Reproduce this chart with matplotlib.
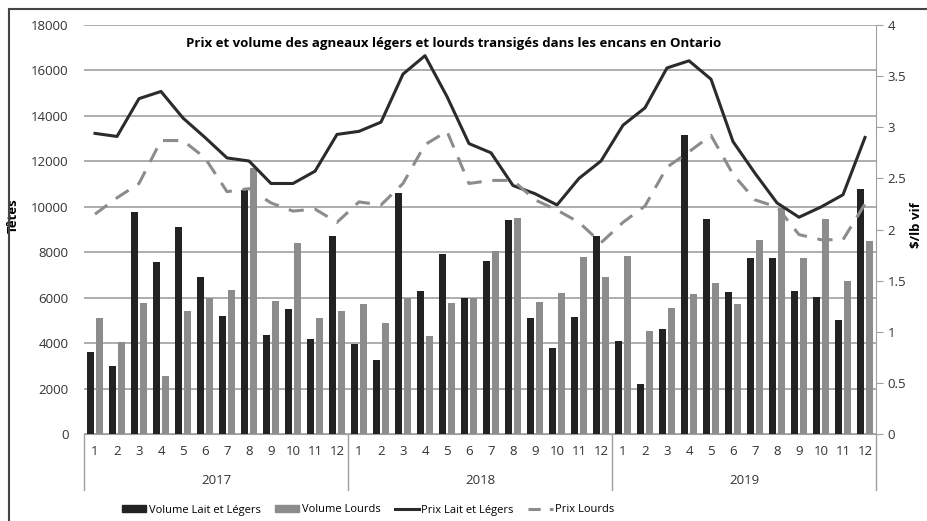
import numpy as np
import matplotlib
matplotlib.use("Agg")
import matplotlib.pyplot as plt
from matplotlib.lines import Line2D
from matplotlib.patches import Patch, Rectangle

plt.rcParams['font.family'] = ['Open Sans', 'DejaVu Sans']

years = ['2017', '2018', '2019']
months = [str(m) for m in range(1, 13)]

vol_legers = [3600, 3000, 9750, 7550, 9100, 6900, 5200, 10750, 4350, 5500, 4200, 8700,
              3950, 3250, 10600, 6300, 7900, 6000, 7600, 9400, 5100, 3800, 5150, 8700,
              4100, 2200, 4600, 13150, 9450, 6250, 7750, 7750, 6300, 6050, 5000, 10800]
vol_lourds = [5100, 4050, 5750, 2550, 5400, 6000, 6350, 11700, 5850, 8400, 5100, 5400,
              5700, 4900, 6000, 4300, 5750, 6000, 8050, 9500, 5800, 6200, 7800, 6900,
              7850, 4550, 5550, 6150, 6650, 5700, 8550, 9950, 7750, 9450, 6750, 8500]
prix_legers = [2.94, 2.91, 3.28, 3.35, 3.09, 2.90, 2.70, 2.67, 2.45, 2.45, 2.57, 2.93,
               2.96, 3.05, 3.52, 3.70, 3.30, 2.84, 2.75, 2.43, 2.35, 2.24, 2.50, 2.67,
               3.02, 3.19, 3.58, 3.65, 3.47, 2.86, 2.55, 2.26, 2.12, 2.22, 2.34, 2.90]
prix_lourds = [2.15, 2.31, 2.45, 2.87, 2.87, 2.70, 2.37, 2.40, 2.26, 2.18, 2.20, 2.07,
               2.27, 2.24, 2.45, 2.83, 2.96, 2.45, 2.48, 2.48, 2.29, 2.19, 2.07, 1.87,
               2.07, 2.23, 2.61, 2.76, 2.92, 2.54, 2.29, 2.22, 1.95, 1.90, 1.90, 2.25]

dark = '#222222'
grey = '#8c8c8c'
txt = '#333333'

fig = plt.figure(figsize=(9.27, 5.21), dpi=100)
ax = fig.add_axes([84 / 927, 1 - 434 / 521, (876 - 84) / 927, (434 - 25) / 521])
ax2 = ax.twinx()

x = np.arange(len(vol_legers))
w = 0.32
ax.bar(x - 0.19, vol_legers, w, color=dark, zorder=3)
ax.bar(x + 0.19, vol_lourds, w, color=grey, zorder=3)

ax.set_ylim(0, 18000)
ax.set_yticks(range(0, 18001, 2000))
ax.set_xlim(-0.5, len(x) - 0.5)
ax.grid(axis='y', color='#a0a0a0', linewidth=1.2, zorder=0)
ax.set_axisbelow(True)
for s in ['top', 'left', 'right']:
    ax.spines[s].set_visible(False)
ax.spines['bottom'].set_color('#a0a0a0')
ax.tick_params(axis='y', length=0, labelsize=9.5, labelcolor=txt, pad=11)
ax.set_xticks(x)
ax.set_xticklabels(months * 3)
ax.tick_params(axis='x', length=0, labelsize=9.5, labelcolor=txt, pad=8)
ax.set_ylabel('Têtes', fontsize=9.5, fontweight='bold')
ax.yaxis.set_label_coords(-0.081, 0.535)

ax2.plot(x, prix_legers, color='#2b2b2b', linewidth=2.2, zorder=4)
ax2.plot(x, prix_lourds, color=grey, linewidth=2.2, dashes=(5, 3.5), zorder=4)
ax2.set_ylim(0, 4)
ax2.set_yticks([0, 0.5, 1, 1.5, 2, 2.5, 3, 3.5, 4])
ax2.set_yticklabels(['0', '0.5', '1', '1.5', '2', '2.5', '3', '3.5', '4'])
for s in ['top', 'left', 'bottom']:
    ax2.spines[s].set_visible(False)
ax2.spines['right'].set_color('#a0a0a0')
ax2.spines['right'].set_bounds(0, 4)
ax2.tick_params(axis='y', length=5, color='#a0a0a0', labelsize=9.5, labelcolor=txt)
ax2.set_ylabel('$/lb vif', fontsize=9.5, fontweight='bold')
ax2.yaxis.set_label_coords(1.043, 0.51)

# year groups below the months
trans = ax.get_xaxis_transform()
for i in range(4):
    ax.plot([i * 12 - 0.5] * 2, [0, -0.137], transform=trans, color='#a0a0a0',
            linewidth=1, clip_on=False)
for i, yr in enumerate(years):
    ax.text(i * 12 + 5.5, -0.113, yr, transform=trans, ha='center', va='center',
            fontsize=9.5, color=txt)

ax.text(0.467, 0.955, 'Prix et volume des agneaux légers et lourds transigés dans les encans en Ontario',
        transform=ax.transAxes, ha='center', va='center', fontsize=9.5, fontweight='bold',
        zorder=6)

handles = [Patch(color=dark), Patch(color=grey),
           Line2D([], [], color='#2b2b2b', linewidth=2.2),
           Line2D([], [], color=grey, linewidth=2.2, dashes=(4, 3))]
labels = ['Volume Lait et Légers', 'Volume Lourds', 'Prix Lait et Légers', 'Prix Lourds']
fig.legend(handles, labels, loc='center', bbox_to_anchor=(0.397, 1 - 510 / 521), ncol=4,
           frameon=False, fontsize=8, handlelength=2.2, handleheight=0.55,
           columnspacing=1.3, handletextpad=0.2)

fig.patches.append(Rectangle((9 / 927, -0.01), 1, 1 - 9 / 521 + 0.01, transform=fig.transFigure,
                             fill=False, edgecolor='#444444', linewidth=1.5))

fig.savefig('out.png', dpi=100)
